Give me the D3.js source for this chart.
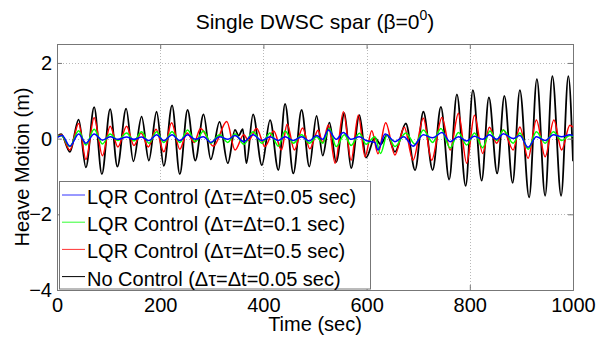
<!DOCTYPE html>
<html>
<head>
<meta charset="utf-8">
<script src="https://cdn.jsdelivr.net/npm/d3@7"></script>
<style>
  body { margin: 0; background: #fff; }
  text { font-family: "Liberation Sans", Arial, sans-serif; fill: #000; }
</style>
</head>
<body>
<div id="chart"></div>
<script>
// extrema: [time (sec), heave (m)]
const noControl = [[0,0.05],[8,0.12],[25,-0.35],[42,0.50],[56,-0.76],[72,0.83],[87,-0.94],[103,0.78],[117,-0.74],[134,0.79],[148,-0.60],[164,0.58],[178,-0.58],[193,0.71],[207,-0.72],[223,0.88],[238,-0.94],[253,0.76],[268,-0.58],[284,0.64],[298,-0.55],[315,0.44],[331,-0.65],[345,0.23],[352,0.08],[360,0.25],[367,-0.65],[380,0.64],[397,-0.70],[413,0.49],[429,-0.83],[442,0.92],[458,-0.92],[474,0.76],[489,-0.74],[503,0.60],[515,-0.45],[528,0.42],[541,-0.62],[557,0.67],[570,-0.78],[586,0.62],[599,-0.50],[616,0.02],[627,-0.15],[640,0.10],[655,-0.35],[676,0.40],[694,-0.83],[710,0.71],[728,-0.83],[744,0.84],[760,-1.08],[775,1.17],[792,-1.25],[806,1.28],[823,-1.11],[837,1.09],[853,-0.92],[867,1.13],[883,-1.17],[897,1.28],[915,-1.55],[930,1.57],[946,-1.51],[960,1.65],[977,-1.51],[991,1.65],[1000,-0.60]];
const lqr05 = [[0,0.05],[8,0.10],[25,-0.30],[42,0.40],[56,-0.55],[72,0.55],[88,-0.45],[103,0.33],[118,-0.22],[135,0.33],[149,-0.18],[163,0.15],[177,-0.22],[192,0.25],[207,-0.35],[222,0.42],[238,-0.28],[252,0.15],[266,-0.10],[278,0.27],[303,-0.20],[329,0.45],[345,-0.30],[362,0.10],[371,-0.05],[387,0.27],[403,-0.21],[420,0.20],[435,-0.30],[446,0.38],[460,-0.30],[476,0.28],[490,-0.27],[506,0.22],[515,-0.10],[526,0.36],[539,-0.65],[555,0.71],[570,-0.57],[584,0.62],[597,-0.48],[610,0.21],[622,-0.40],[637,0.42],[655,-0.43],[673,0.30],[690,-0.57],[710,0.54],[726,-0.57],[746,0.56],[762,-0.30],[778,0.67],[794,-0.65],[809,0.62],[825,-0.39],[838,0.30],[852,-0.12],[865,0.23],[884,-0.30],[897,0.31],[913,-0.52],[929,0.49],[946,-0.48],[963,0.49],[978,-0.30],[994,0.35],[1000,0.30]];
const lqr01 = [[0,0.05],[8,0.08],[25,-0.21],[42,0.21],[56,-0.17],[72,0.25],[88,-0.14],[103,0.12],[118,-0.05],[135,0.15],[149,-0.06],[164,0.18],[178,-0.12],[193,0.18],[207,-0.10],[223,0.18],[238,-0.10],[253,0.23],[268,-0.08],[284,0.20],[298,-0.12],[315,0.10],[331,-0.10],[345,0.12],[362,-0.15],[380,0.18],[397,-0.12],[413,0.15],[429,-0.20],[442,0.20],[458,-0.12],[474,0.10],[489,-0.12],[503,0.05],[515,-0.12],[528,0.27],[541,-0.21],[557,0.10],[570,-0.18],[586,0.14],[599,-0.15],[616,0.05],[627,-0.39],[640,0.10],[655,-0.21],[676,0.15],[694,-0.15],[710,0.23],[728,-0.10],[744,0.27],[762,-0.25],[778,0.16],[794,-0.17],[809,0.15],[825,-0.24],[839,0.20],[852,-0.05],[865,0.23],[884,-0.12],[897,0.15],[913,-0.28],[929,0.18],[946,-0.12],[962,0.18],[978,-0.05],[994,0.08],[1000,0.06]];
const lqr005 = [[0,0.03],[10,0.08],[25,-0.20],[42,0.12],[56,-0.12],[72,0.12],[88,-0.04],[103,0.05],[118,-0.02],[135,0.04],[149,-0.02],[164,0.04],[178,-0.05],[193,0.10],[207,-0.05],[223,0.10],[238,-0.05],[253,0.10],[268,-0.02],[284,0.05],[298,-0.10],[315,0.05],[331,-0.02],[345,0.08],[362,-0.08],[380,0.10],[397,-0.05],[413,0.05],[429,-0.05],[442,0.05],[458,-0.05],[474,0.05],[489,-0.06],[503,0.08],[515,-0.02],[526,0.23],[541,-0.02],[555,0.16],[570,-0.02],[586,0.05],[599,-0.05],[616,-0.10],[622,-0.30],[636,0.12],[655,-0.08],[672,0.05],[690,-0.20],[710,0.10],[728,0.02],[746,0.16],[762,-0.08],[778,0.05],[794,-0.06],[809,0.06],[825,-0.02],[838,0.10],[852,-0.02],[865,0.13],[884,0.0],[897,0.08],[913,-0.23],[929,0.05],[946,-0.05],[962,0.10],[978,0.05],[994,0.10],[1000,0.08]];

const xTicks = [0, 200, 400, 600, 800, 1000];
const yTicks = [-4, -2, 0, 2];
const legendLabels = [
  'LQR Control (\u0394\u03c4=\u0394t=0.05 sec)',
  'LQR Control (\u0394\u03c4=\u0394t=0.1 sec)',
  'LQR Control (\u0394\u03c4=\u0394t=0.5 sec)',
  'No Control (\u0394\u03c4=\u0394t=0.05 sec)'
];
const colors = ['#0000ff', '#00ff00', '#ff0000', '#000000'];

const width = 597, height = 339;
const margin = {top: 44, right: 24, bottom: 49, left: 57};

const svg = d3.select('#chart').append('svg')
  .attr('width', width).attr('height', height);

const x = d3.scaleLinear().domain([0, 1000]).range([margin.left, width - margin.right]);
const y = d3.scaleLinear().domain([-4, 2.5]).range([height - margin.bottom, margin.top]);

// grid
const grid = svg.append('g').attr('stroke', '#b8b8b8').attr('stroke-dasharray', '1,2').attr('stroke-width', 1);
xTicks.slice(1, -1).forEach(t => {
  grid.append('line').attr('x1', Math.round(x(t)) + 0.5).attr('x2', Math.round(x(t)) + 0.5)
    .attr('y1', y(2.5)).attr('y2', y(-4));
});
yTicks.slice(1).forEach(t => {
  grid.append('line').attr('y1', Math.round(y(t)) + 0.5).attr('y2', Math.round(y(t)) + 0.5)
    .attr('x1', x(0)).attr('x2', x(1000));
});

svg.append('clipPath').attr('id', 'clip').append('rect')
  .attr('x', x(0)).attr('y', y(2.5)).attr('width', x(1000) - x(0)).attr('height', y(-4) - y(2.5));

const line = d3.line().x(d => x(d[0])).y(d => y(d[1])).curve(d3.curveMonotoneX);
const plot = svg.append('g').attr('clip-path', 'url(#clip)');
[[noControl, colors[3], 1.8], [lqr05, colors[2], 1.5], [lqr01, colors[1], 1.5], [lqr005, colors[0], 1.5]].forEach(([data, c, w]) => {
  plot.append('path').datum(data).attr('d', line)
    .attr('fill', 'none').attr('stroke', c).attr('stroke-width', w);
});

// axes
const fmt = d3.format('d');
const xAxis = d3.axisBottom(x).tickValues(xTicks).tickFormat(fmt).tickSize(-5).tickPadding(8);
const yAxis = d3.axisLeft(y).tickValues(yTicks).tickFormat(fmt).tickSize(-5).tickPadding(5);
svg.append('g').attr('transform', `translate(0,${y(-4)})`).call(xAxis);
svg.append('g').attr('transform', `translate(${x(0)},0)`).call(yAxis);
svg.append('g').attr('transform', `translate(0,${y(2.5)})`).call(d3.axisTop(x).tickValues(xTicks).tickSize(-5).tickFormat(''));
svg.append('g').attr('transform', `translate(${x(1000)},0)`).call(d3.axisRight(y).tickValues(yTicks).tickSize(-5).tickFormat(''));
svg.selectAll('.domain').attr('stroke', '#777');
svg.selectAll('.tick line').attr('stroke', '#777');
svg.selectAll('.tick text').style('font-size', '20px').style('font-family', '"Liberation Sans", Arial, sans-serif').attr('fill', '#000');

// legend
const lg = svg.append('g');
lg.append('rect').attr('x', 59.5).attr('y', 181.5).attr('width', 311).attr('height', 107.5)
  .attr('fill', '#fff').attr('stroke', '#777');
legendLabels.forEach((lab, i) => {
  const yy = 195 + i * 27.2;
  lg.append('line').attr('x1', 62).attr('x2', 85).attr('y1', yy).attr('y2', yy)
    .attr('stroke', colors[i]).attr('stroke-width', 1).attr('opacity', i < 3 ? 0.8 : 1);
  lg.append('text').attr('x', 87).attr('y', yy + 9).style('font-size', '20px').text(lab);
});

// titles
const title = svg.append('text').attr('x', (x(0) + x(1000)) / 2).attr('y', 29)
  .attr('text-anchor', 'middle').style('font-size', '21px');
title.append('tspan').text('Single DWSC spar (\u03b2=0');
title.append('tspan').attr('dy', -9).style('font-size', '14px').text('0');
title.append('tspan').attr('dy', 9).text(')');

svg.append('text').attr('x', (x(0) + x(1000)) / 2).attr('y', 331)
  .attr('text-anchor', 'middle').style('font-size', '20px').text('Time (sec)');
svg.append('text').attr('transform', `translate(29,${(y(2.5) + y(-4)) / 2}) rotate(-90)`)
  .attr('text-anchor', 'middle').style('font-size', '20px').text('Heave Motion (m)');
</script>
</body>
</html>
